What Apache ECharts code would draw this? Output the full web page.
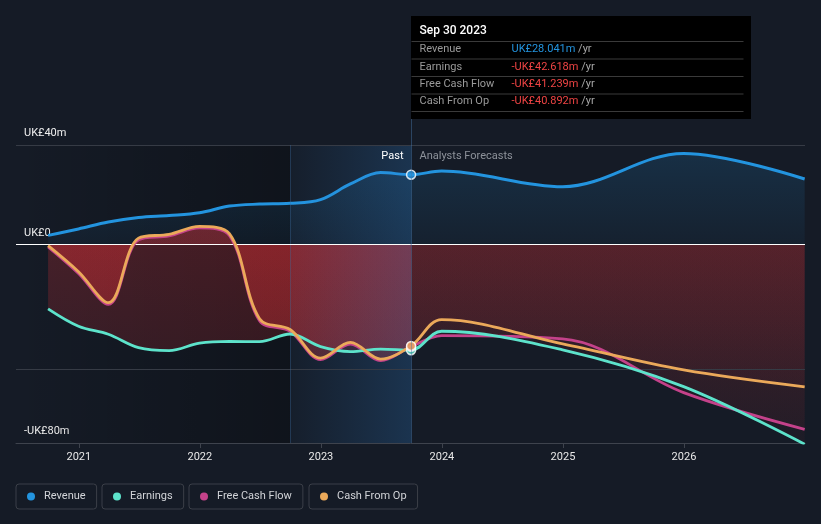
<!DOCTYPE html>
<html><head><meta charset="utf-8">
<script src="https://cdn.jsdelivr.net/npm/echarts@6/dist/echarts.min.js"></script>
<style>html,body{margin:0;padding:0;background:#151b26}#c{width:821px;height:524px}</style>
</head><body><div id="c"></div>
<script>
// ---- data (UK£ millions) ----
const pastDates = ['2020-09-30','2020-12-31','2021-03-31','2021-06-30','2021-09-30','2021-12-31','2022-03-31','2022-06-30','2022-09-30','2022-12-31','2023-03-31','2023-06-30','2023-09-30'];
const forecastDates = ['2023-09-30','2023-12-31','2024-12-31','2025-12-31','2026-12-31'];
const revenuePast = [3.6,6.2,9.0,10.8,11.6,12.7,15.4,16.2,16.5,18.0,24.3,28.9,28.041];
const revenueForecast = [28.041,29.5,23.2,36.6,26.3];
const earningsPast = [-26.0,-33.0,-36.2,-41.6,-42.8,-39.8,-39.1,-39.2,-36.1,-41.2,-43.2,-42.2,-42.618];
const earningsForecast = [-42.618,-35.0,-42.5,-57.3,-80.5];
const fcfPast = [-1.0,-11.7,-24.2,1.8,3.4,6.6,3.6,-30.8,-35.0,-46.4,-40.2,-46.8,-41.239];
const fcfForecast = [-41.239,-36.8,-38.1,-59.7,-74.5];
const cfoPast = [-0.5,-11.0,-23.5,2.5,4.0,7.2,4.3,-30.0,-34.3,-45.8,-39.5,-46.2,-40.892];
const cfoForecast = [-40.892,-30.3,-40.1,-50.6,-57.4];
const yTicks = [40, 0, -80];
const xYears = [2021, 2022, 2023, 2024, 2025, 2026];
const xRange = ['2020-06-25', '2027-01-01'];
const highlightStart = '2022-09-30';
const tooltipTitle = 'Sep 30 2023';
const seriesNames = ['Revenue','Earnings','Free Cash Flow','Cash From Op'];
const gridLineValues = [40, -50.5];

// ---- helpers ----
const C = {rev:'#2394df', earn:'#5de3cb', fcf:'#c4428a', cfo:'#eba95a'};
const FONT = 'Roboto, "Noto Sans", sans-serif';
function dy(s){ // date string -> decimal year
  const [y,m,d] = s.split('-').map(Number);
  const t0 = Date.UTC(y,0,1), t1 = Date.UTC(y+1,0,1), t = Date.UTC(y,m-1,d);
  return y + (t - t0)/(t1 - t0);
}
function pairs(d, v){ return d.map((x,i)=>[dy(x), v[i]]); }
const all = (p,f)=>pairs(pastDates,p).concat(pairs(forecastDates,f).slice(1));
const fmtM = v => (v<0?'-':'') + 'UK£' + Math.abs(v).toFixed(3) + 'm';
const lastX = dy(pastDates[pastDates.length-1]);

function vgrad(a,b,rgb){ return new echarts.graphic.LinearGradient(0,0,0,1,[{offset:0,color:`rgba(${rgb},${a})`},{offset:1,color:`rgba(${rgb},${b})`}]); }
function hgrad(c1,c2){ return new echarts.graphic.LinearGradient(0,0,1,0,[{offset:0,color:c1},{offset:1,color:c2}]); }

const RED = '235,50,55';
function areaSeries(name, data, a, b){
  return {name, type:'line', data, smooth:0.35, symbol:'none', silent:true,
    lineStyle:{width:0, opacity:0}, areaStyle:{color:vgrad(a,b,RED)}, z:3};
}
function lineSeries(name, data, color, z){
  return {name, type:'line', data, smooth:0.35, symbol:'none', silent:true,
    itemStyle:{color}, lineStyle:{width:2.8, color}, z};
}
function dotSeries(name, val, color){
  return {name, type:'scatter', data:[[lastX, val]], symbol:'circle', symbolSize:9,
    itemStyle:{color, borderColor:'#fff', borderWidth:1.5}, silent:true, z:10};
}

const chart = echarts.init(document.getElementById('c'));
const legendLefts = [16, 102, 189, 309];

chart.setOption({
  animation:false,
  backgroundColor:'#151b26',
  grid:{left:16, right:16, top:145, bottom:81},
  xAxis:{type:'value', min:dy(xRange[0]), max:dy(xRange[1]),
    axisLine:{onZero:false, show:true, lineStyle:{color:'#3e434d', width:1}},
    axisTick:{show:true, customValues:xYears, length:5, lineStyle:{color:'#3e434d'}},
    axisLabel:{customValues:xYears, color:'#e8e8e8', fontSize:11, fontFamily:FONT, margin:9,
      formatter:v=>String(Math.round(v))},
    splitLine:{show:false}},
  yAxis:{type:'value', min:-80, max:40,
    axisLine:{show:false}, axisTick:{show:false}, splitLine:{show:false},
    axisLabel:{inside:true, customValues:yTicks, margin:8, color:'#f0f0f0', fontSize:11, fontFamily:FONT,
      verticalAlign:'bottom', padding:[0,0,6,0],
      formatter:v=> v===0 ? 'UK£0' : (v<0?'-':'')+'UK£'+Math.abs(v)+'m'}},
  legend: seriesNames.map((n,i)=>({data:[n], left:legendLefts[i], top:484, icon:'circle', itemWidth:8, itemHeight:8,
    padding:[7,11,7,11], borderColor:'#3b3f48', borderWidth:1, borderRadius:3, selectedMode:false,
    textStyle:{color:'#d2d4d8', fontSize:11, fontFamily:FONT, padding:[0,0,0,4]}})),
  series:[
    {name:'bg', type:'line', data:[], z:1, silent:true,
      markArea:{silent:true, data:[
        [{xAxis:dy(xRange[0]), itemStyle:{color:hgrad('rgba(0,0,0,0)','rgba(0,0,0,0.28)')}}, {xAxis:dy(highlightStart)}]
      ]},
      markLine:{silent:true, symbol:'none', label:{show:false}, data:[
        ...gridLineValues.map(v=>({yAxis:v, lineStyle:{color:'#363b45', width:1, type:'solid'}})),
        {xAxis:dy(highlightStart), lineStyle:{color:'rgba(60,110,160,0.35)', width:1, type:'solid'}}
      ]}},
    {name:'hl', type:'line', data:[], z:4, silent:true,
      markArea:{silent:true, z:4, data:[
        [{xAxis:dy(highlightStart), itemStyle:{color:hgrad('rgba(45,130,210,0.03)','rgba(45,130,210,0.24)')}}, {xAxis:lastX}]
      ]}},
    {name:'Revenue', type:'line', data:all(revenuePast, revenueForecast), smooth:0.35, symbol:'none', silent:true,
      itemStyle:{color:C.rev}, lineStyle:{width:3, color:C.rev}, areaStyle:{color:vgrad(0.24,0.07,'35,148,223')}, z:2,
      markLine:{silent:true, symbol:'none', label:{show:false}, data:[{yAxis:0, lineStyle:{color:'#ffffff', width:1, type:'solid'}}]}},
    areaSeries('ea', pairs(pastDates, earningsPast), 0.33, 0.24),
    areaSeries('fa', pairs(pastDates, fcfPast), 0.33, 0.24),
    areaSeries('ca', pairs(pastDates, cfoPast), 0.33, 0.24),
    areaSeries('ef', pairs(forecastDates, earningsForecast), 0.16, 0.05),
    areaSeries('ff', pairs(forecastDates, fcfForecast), 0.16, 0.05),
    areaSeries('cf', pairs(forecastDates, cfoForecast), 0.16, 0.05),
    lineSeries('Free Cash Flow', all(fcfPast, fcfForecast), C.fcf, 5),
    lineSeries('Earnings', all(earningsPast, earningsForecast), C.earn, 6),
    lineSeries('Cash From Op', all(cfoPast, cfoForecast), C.cfo, 7),
    dotSeries('d1', earningsPast[earningsPast.length-1], C.earn),
    dotSeries('d2', fcfPast[fcfPast.length-1], C.fcf),
    dotSeries('d3', cfoPast[cfoPast.length-1], C.cfo),
    dotSeries('d4', revenuePast[revenuePast.length-1], C.rev)
  ]
});

// ---- annotations positioned from the axes ----
const px = Math.round(chart.convertToPixel({xAxisIndex:0}, lastX)) + 0.5;
const yBot = chart.convertToPixel({yAxisIndex:0}, -80);
const rows = [
  ['Revenue', revenuePast[revenuePast.length-1], '#2394df'],
  ['Earnings', earningsPast[earningsPast.length-1], '#ee4444'],
  ['Free Cash Flow', fcfPast[fcfPast.length-1], '#ee4444'],
  ['Cash From Op', cfoPast[cfoPast.length-1], '#ee4444']
];
const boxTop = 16, boxH = 103, boxW = 340;
const g = [
  {type:'line', shape:{x1:px, y1:boxTop+boxH, x2:px, y2:yBot}, style:{stroke:'rgba(70,120,170,0.45)', lineWidth:1}, silent:true, z:20},
  {type:'rect', shape:{x:px-0.5, y:boxTop, width:boxW, height:boxH}, style:{fill:'#000'}, silent:true, z:20},
  {type:'text', x:px+8, y:31, style:{text:tooltipTitle, fill:'#fff', font:'500 12px '+FONT, verticalAlign:'middle'}, z:21},
  {type:'text', x:px-8, y:156, style:{text:'Past', fill:'#fff', font:'11px '+FONT, align:'right', verticalAlign:'middle'}, z:21},
  {type:'text', x:px+8, y:156, style:{text:'Analysts Forecasts', fill:'#8d929a', font:'11px '+FONT, verticalAlign:'middle'}, z:21}
];
const sepY = [41, 58.5, 76, 93.5, 111];
sepY.forEach(y=>g.push({type:'line', shape:{x1:px, y1:y+0.5, x2:px+332, y2:y+0.5}, style:{stroke:'#3a3a3a', lineWidth:1}, silent:true, z:21}));
rows.forEach((r,i)=>{
  const cy = 49.5 + i*17.4;
  g.push({type:'text', x:px+8, y:cy, style:{text:r[0], fill:'#9a9a9a', font:'11px '+FONT, verticalAlign:'middle'}, z:21});
  g.push({type:'text', x:px+100, y:cy, style:{text:'{v|'+fmtM(r[1])+'} {u|/yr}', font:'11px '+FONT, verticalAlign:'middle',
    rich:{v:{fill:r[2], font:'11px '+FONT}, u:{fill:'#a8a8a8', font:'11px '+FONT}}}, z:21});
});
chart.setOption({graphic:g});
</script></body></html>
